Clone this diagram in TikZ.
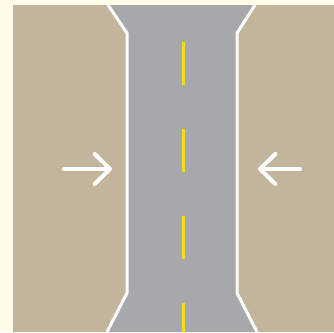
\documentclass[tikz,border=0pt]{standalone}
\usetikzlibrary{arrows.meta}
\definecolor{cream}{HTML}{FFFDE9}
\definecolor{sand}{HTML}{C2B59B}
\definecolor{asphalt}{HTML}{A7A8AA}
\definecolor{lane}{HTML}{FFD619}
\begin{document}
\begin{tikzpicture}[x=0.3mm, y=-0.3mm]
    \fill[cream] (0,0) rectangle (334,332);
    \useasboundingbox (0,0) rectangle (334,332);
    \fill[sand] (13,5) rectangle (334,332);
    % The road, narrowing in the middle.
        \fill[asphalt] (108,5) -- (127,33) -- (127,293) -- (107,332) -- (257,332) -- (237,293) -- (237,33) -- (255,5) -- cycle;
        \draw[white, line width=0.9mm, line join=round] (108,5) -- (127,33) -- (127,293) -- (107,332);
        \draw[white, line width=0.9mm, line join=round] (255,5) -- (237,33) -- (237,293) -- (257,332);
    % Yellow centre line.
        \foreach \y in {42,129,216,303}
            \draw[lane, line width=0.9mm] (183,\y) -- (183,{min(\y+43,332)});
    % These draw the two arrows pressing in.
        \draw[white, line width=1.2mm, line cap=round, -{Straight Barb[length=4.6mm, width=9mm, round]}] (64,169) -- (112,169);
        \draw[white, line width=1.2mm, line cap=round, -{Straight Barb[length=4.6mm, width=9mm, round]}] (300,169) -- (258,169);
\end{tikzpicture}
\end{document}
